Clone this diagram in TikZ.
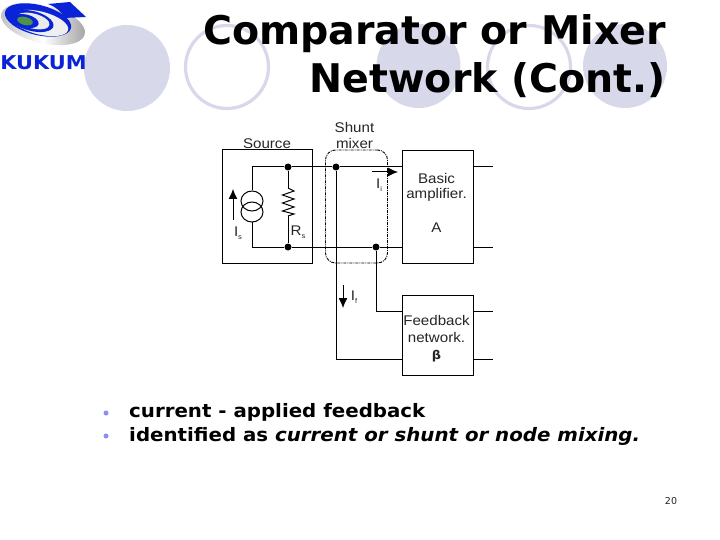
\documentclass[tikz,border=0pt]{standalone}
\usepackage{fontspec}
\setmainfont{Liberation Sans}
\newfontfamily\slidefont{DejaVu Sans}
\usetikzlibrary{shapes.geometric,arrows.meta}
\definecolor{lav}{RGB}{216,216,235}
\definecolor{logoblue}{RGB}{10,35,215}
\definecolor{logosilver}{RGB}{150,150,150}
\tikzset{
  disc/.style={fill=lav,draw=none},
  ring/.style={draw=lav,line width=3.2pt,fill=none},
  blockbox/.style={draw=black,line width=1pt,fill=white,rectangle,inner sep=0pt},
  wire/.style={draw=black,line width=1pt},
  junction/.style={circle,fill=black,inner sep=0pt,minimum size=7pt},
  lbl/.style={font=\fontsize{14}{16}\selectfont,text=black!85,inner sep=0pt,xscale=1.08},
  current/.style={draw=black,line width=1pt,-{Latex[length=10pt,width=9pt]}},
  titletext/.style={font=\slidefont\bfseries\fontsize{39.5}{48}\selectfont,align=right,anchor=north east,inner sep=0pt,text=black},
  bodytext/.style={font=\slidefont\bfseries\fontsize{18.5}{22}\selectfont,anchor=west,inner sep=0pt,text=black,xscale=1.07},
  csource/.style={draw=black,line width=1pt,ellipse,minimum width=22pt,minimum height=20pt,inner sep=0pt},
}
\begin{document}
\begin{tikzpicture}[x=1pt,y=-1pt]
\useasboundingbox (0,0) rectangle (720,540);
\fill[white] (0,0) rectangle (720,540);
% background circles
\fill[disc] (127,68) circle (43);
\draw[ring] (227,67) circle (41.5);
\fill[disc] (418.5,66) circle (42);
\draw[ring] (529,67) circle (41.5);
\fill[disc] (625,66) circle (42);
% logo
\shade[left color=logosilver!60,right color=logosilver!90,middle color=white,rotate around={-14:(43,24)}] (43,24) ellipse (43 and 19);
\fill[logoblue,rotate around={-14:(38,20)}] (38,20) ellipse (34 and 15);
\fill[white!85!logosilver,rotate around={-14:(40,23)}] (40,23) ellipse (29 and 11.5);
\fill[logoblue,rotate around={-14:(32,21)}] (32,21) ellipse (22 and 10);
\fill[white!80!logosilver,rotate around={-14:(33,21)}] (33,21) ellipse (17 and 7.5);
\fill[logoblue,rotate around={-14:(26,21)}] (26,21) ellipse (13 and 6.5);
\fill[black!30!green!40!gray,rotate around={-14:(25,21)}] (25,21) ellipse (8 and 4);
\fill[logoblue] (48,4) -- (70,2) -- (86,17) -- (64,18) .. controls (62,12) and (56,7) .. (48,4) -- cycle;
\node[font=\slidefont\bfseries\fontsize{18.5}{20}\selectfont,text=logoblue,inner sep=0pt,xscale=1.13,yscale=1.03] (logo) at (43.5,63) {KUKUM};
% title
\node[titletext] (title) at (666,14) {Comparator or Mixer\\Network (Cont.)};
% blocks
\node[blockbox,minimum width=90pt,minimum height=113pt] (src) at (267,206.5) {};
\node[blockbox,minimum width=71pt,minimum height=112pt] (amp) at (437.5,207) {};
\node[blockbox,minimum width=71pt,minimum height=80pt] (fbk) at (437.5,335) {};
% junction points
\coordinate (tl) at (252,167);
\coordinate (bl) at (252,247);
\node[junction] (j1) at (288,167) {};
\node[junction] (j2) at (288,247) {};
\node[junction] (j3) at (336,167) {};
\node[junction] (j4) at (376,247) {};
\coordinate (amptop) at (402,167);
\coordinate (ampbot) at (402,247);
\coordinate (fbtop) at (402,311);
\coordinate (fbbot) at (402,359);
\coordinate (c376) at (376,311);
\coordinate (c336) at (336,359);
\coordinate (o1s) at (473,167); \coordinate (o1e) at (493,167);
\coordinate (o2s) at (473,247); \coordinate (o2e) at (493,247);
\coordinate (o3s) at (473,311); \coordinate (o3e) at (493,311);
\coordinate (o4s) at (473,359); \coordinate (o4e) at (493,359);
% current source
\node[csource] (cs1) at (252,201) {};
\node[csource] (cs2) at (252,212) {};
% wires
\draw[wire] (cs1.north) -- (tl) -- (j1) -- (j3) -- (amptop);
\draw[wire] (cs2.south) -- (bl) -- (j2) -- (j4) -- (ampbot);
\draw[wire] (j3) -- (c336) -- (fbbot);
\draw[wire] (j4) -- (c376) -- (fbtop);
\draw[wire] (o1s) -- (o1e);
\draw[wire] (o2s) -- (o2e);
\draw[wire] (o3s) -- (o3e);
\draw[wire] (o4s) -- (o4e);
% resistor
\coordinate (ra) at (288,188);
\coordinate (rb) at (288,216);
\draw[wire] (j1) -- (ra);
\draw[wire] (rb) -- (j2);
\draw[wire] (ra) -- (294,191) -- (282.5,195) -- (294,199) -- (282.5,203) -- (294,207) -- (282.5,211) -- (294,214) -- (rb);
% shunt mixer outline
\node[draw=black,line width=0.9pt,dash pattern=on 3pt off 1pt on 1pt off 1pt,rounded corners=10pt,rectangle,minimum width=62pt,minimum height=113pt,inner sep=0pt] (mixer) at (356.5,206.5) {};
% current arrows
\coordinate (isa) at (233,220); \coordinate (isb) at (233,189);
\draw[current] (isa) -- (isb);
\coordinate (iia) at (372,172); \coordinate (iib) at (398,172);
\draw[current] (iia) -- (iib);
\coordinate (ifa) at (343,285); \coordinate (ifb) at (343,308);
\draw[current] (ifa) -- (ifb);
% labels
\node[lbl] (lsrc) at (267,143.5) {Source};
\node[lbl] (lsh) at (354.5,127) {Shunt};
\node[lbl] (lmx) at (354.5,143.5) {mixer};
\node[lbl] (lb) at (436.5,178) {Basic};
\node[lbl] (la) at (436.5,195) {amplifier.};
\node[lbl] (lA) at (436.5,228) {A};
\node[lbl] (lf) at (436.5,320) {Feedback};
\node[lbl] (ln) at (436.5,337) {network.};
\node[lbl,font=\slidefont\bfseries\fontsize{12}{14}\selectfont] (lbeta) at (436.5,356) {β};
\node[lbl] (lIs) at (238,233) {I\raisebox{-2.5pt}{\fontsize{7}{8}\selectfont s}};
\node[lbl] (lRs) at (298,232) {R\raisebox{-2.5pt}{\fontsize{7}{8}\selectfont s}};
\node[lbl] (lIi) at (379,185) {I\raisebox{-2.5pt}{\fontsize{7}{8}\selectfont i}};
\node[lbl] (lIf) at (354,297) {I\raisebox{-2.5pt}{\fontsize{7}{8}\selectfont f}};
% bullets
\node[circle,fill=lav!30!blue!60!white,inner sep=0pt,minimum size=5pt] (b1) at (106,413) {};
\node[circle,fill=lav!30!blue!60!white,inner sep=0pt,minimum size=5pt] (b2) at (106,436) {};
\node[bodytext,anchor=west] (t1) at (129,412.5) {current - applied feedback};
\node[bodytext,anchor=west] (t2) at (129,436) {identified as \textit{current or shunt or node mixing.}};
\node[font=\slidefont\fontsize{9.5}{11}\selectfont,inner sep=0pt,text=black!85] (pg) at (671,501) {20};
\end{tikzpicture}
\end{document}
